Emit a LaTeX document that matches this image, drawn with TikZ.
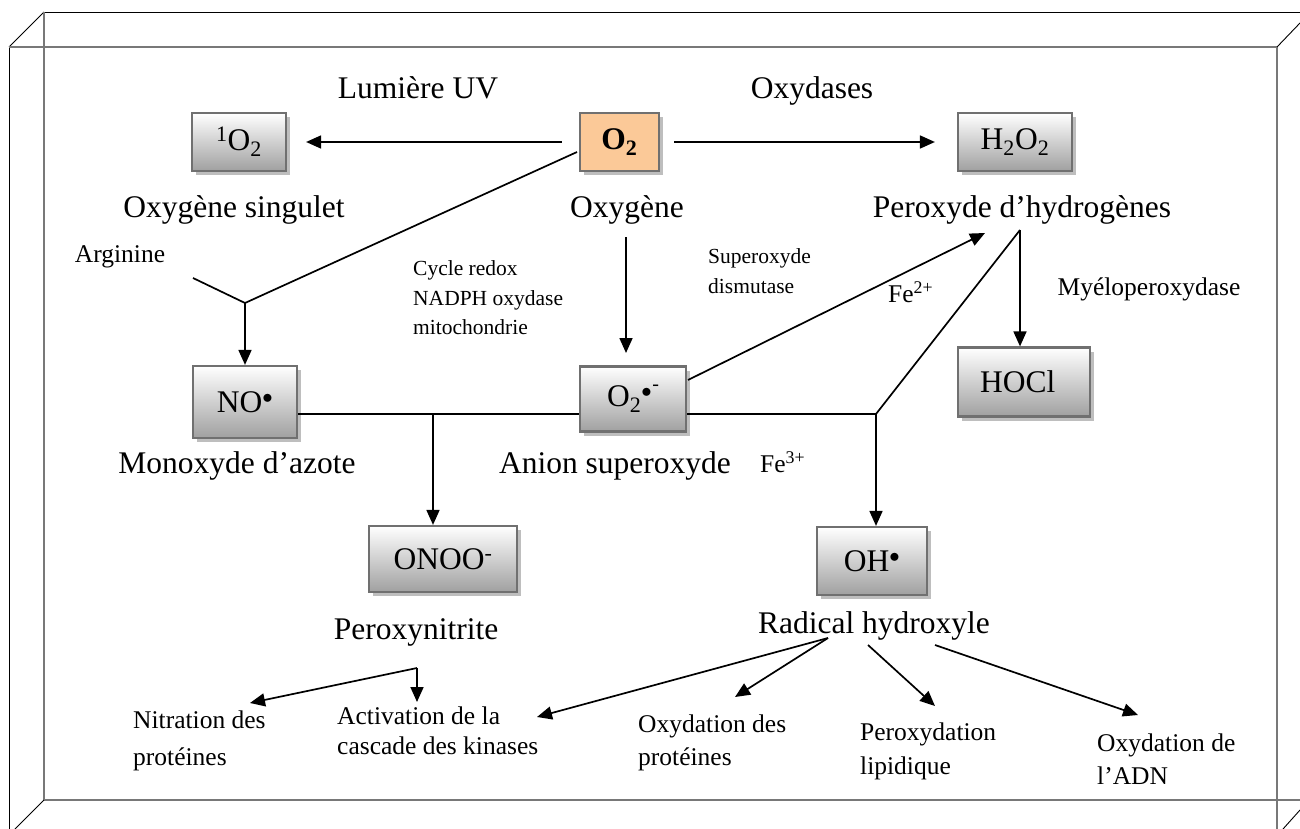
\documentclass[tikz,border=0pt]{standalone}
\usepackage{fontspec}
\setmainfont{Liberation Serif}
\usetikzlibrary{arrows.meta,shadows}
\definecolor{boxdraw}{RGB}{112,112,112}
\definecolor{boxbot}{RGB}{160,160,160}
\definecolor{shad}{RGB}{190,190,190}
\definecolor{orangefill}{RGB}{251,201,152}
\definecolor{framegray}{RGB}{120,120,120}
\begin{document}
\begin{tikzpicture}[x=1pt,y=-1pt,
  box/.style={draw=boxdraw, line width=2.2pt, top color=white, bottom color=boxbot,
    inner sep=0pt, font=\fontsize{31.5}{34}\selectfont,
    drop shadow={shadow xshift=4pt, shadow yshift=-4pt, fill=shad, opacity=1}},
  obox/.style={box, top color=orangefill, bottom color=orangefill, fill=orangefill},
  big/.style={font=\fontsize{31.5}{34}\selectfont, inner sep=0pt},
  small/.style={font=\fontsize{21.5}{29.5}\selectfont, inner sep=0pt, align=left},
  mid/.style={font=\fontsize{25.5}{33}\selectfont, inner sep=0pt, align=left},
  ln/.style={line width=1.7pt},
  arr/.style={line width=1.7pt, -{Triangle[length=15pt,width=13pt]}},
  fblack/.style={line width=0.9pt, black},
  fgray/.style={line width=1.3pt, framegray}]
\useasboundingbox (0,0) rectangle (1300,829);
% frame
\draw[fblack] (44,12) -- (1300,12);
\draw[fblack] (9,47) -- (9,829);
\draw[fblack] (9,47) -- (44,12);
\draw[fgray] (9,47) -- (1277,47);
\draw[fgray] (44,12) -- (44,800);
\draw[fgray] (1277,47) -- (1277,829);
\draw[fgray] (44,800) -- (1300,800);
\draw[fblack] (1277,47) -- (1300,23);
\draw[fblack] (44,800) -- (15,829);
\draw[fblack] (1283,829) -- (1300,810);
% boxes
\node[box, minimum width=94pt, minimum height=58pt] (sO) at (239,142) {\textsuperscript{1}O\textsubscript{2}};
\node[obox, minimum width=79pt, minimum height=58pt] (O2) at (619.5,142) {\textbf{O\textsubscript{2}}};
\node[box, minimum width=114pt, minimum height=58pt] (H2O2) at (1015,142) {H\textsubscript{2}O\textsubscript{2}};
\node[box, minimum width=104pt, minimum height=72pt] (NO) at (245,402) {NO$^{\bullet}$};
\node[box, minimum width=106pt, minimum height=65pt] (O2r) at (633,399) {O\textsubscript{2}$^{\bullet}$\raisebox{1.1ex}{\fontsize{20}{22}\selectfont -}};
\node[box, minimum width=132pt, minimum height=69pt, text width=88pt, align=left] (HOCl) at (1024,382) {HOCl};
\node[box, minimum width=148pt, minimum height=66pt] (ONOO) at (443,559) {ONOO\textsuperscript{-}};
\node[box, minimum width=110pt, minimum height=68pt] (OH) at (872,561) {OH$^{\bullet}$};
% big labels
\node[big, anchor=base] (lUV) at (418,99) {Lumière UV};
\node[big, anchor=base] (lOxd) at (812,99) {Oxydases};
\node[big] (lSing) at (234,210) {Oxygène singulet};
\node[big] (lOxy) at (627,210) {Oxygène};
\node[big] (lPer) at (1022,210) {Peroxyde d’hydrogènes};
\node[big] (lMon) at (237,466) {Monoxyde d’azote};
\node[big] (lAn) at (615,466) {Anion superoxyde};
\node[big] (lPn) at (416,632) {Peroxynitrite};
\node[big] (lRad) at (874,626) {Radical hydroxyle};
% small labels
\node[mid] (lArg) at (120,257) {Arginine};
\node[small, anchor=west] (lCyc) at (413,298) {Cycle redox\\NADPH oxydase\\mitochondrie};
\node[small, anchor=west] (lSod) at (708,271) {Superoxyde\\dismutase};
\node[mid] (lMye) at (1149,289) {Myéloperoxydase};
\node[mid, anchor=west] (lFe2) at (888,292) {Fe\textsuperscript{2+}};
\node[mid, anchor=west] (lFe3) at (760,462) {Fe\textsuperscript{3+}};
\node[mid, anchor=west, font=\fontsize{25.5}{37}\selectfont] (bN) at (133,741) {Nitration des\\protéines};
\node[mid, anchor=west, font=\fontsize{25.5}{30}\selectfont] (bA) at (337,731) {Activation de la\\cascade des kinases};
\node[mid, anchor=west] (bO) at (638,743) {Oxydation des\\protéines};
\node[mid, anchor=west, font=\fontsize{25.5}{34}\selectfont] (bP) at (860,751) {Peroxydation\\lipidique};
\node[mid, anchor=west] (bD) at (1097,759) {Oxydation de\\l’ADN};
% coordinates
\coordinate (jA) at (245,303);
\coordinate (argS) at (193,278);
\coordinate (o2d) at (577,152);
\coordinate (oxs) at (626,237);
\coordinate (oxe) at (626,353);
\coordinate (jN) at (433,414);
\coordinate (jF) at (876,414);
\coordinate (jP) at (1020,230);
\coordinate (sodS) at (688,380);
\coordinate (sodE) at (985,233);
\coordinate (pn) at (417,668);
\coordinate (rA) at (828,638);
\coordinate (rP) at (868,645);
\coordinate (rD) at (935,645);
% connectors
\draw[arr] ([xshift=-17pt]O2.west) -- ([xshift=19pt]sO.east);
\draw[arr] ([xshift=14pt]O2.east) -- ([xshift=-22pt]H2O2.west);
\draw[ln] (o2d) -- (jA);
\draw[ln] (argS) -- (jA);
\draw[arr] (jA) -- (jA |- NO.north);
\draw[arr] (oxs) -- (oxe);
\draw[ln] (NO.east |- jN) -- (O2r.west |- jN);
\draw[ln] (O2r.east |- jF) -- (jF);
\draw[arr] (jN) -- (jN |- ONOO.north);
\draw[arr] (jF) -- (jF |- OH.north);
\draw[ln] (jP) -- (jF);
\draw[arr] (jP) -- (jP |- HOCl.north);
\draw[arr] (sodS) -- (sodE);
\draw[arr] (pn) -- (250,703);
\draw[arr] (pn) -- (417,702);
\draw[arr] (rA) -- (537,717);
\draw[arr] (rA) -- (735,697);
\draw[arr] (rP) -- (935,706);
\draw[arr] (rD) -- (1138,715);
\end{tikzpicture}
\end{document}
